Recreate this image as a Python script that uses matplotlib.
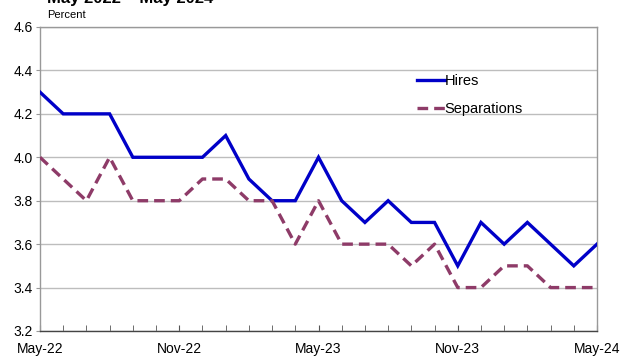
import matplotlib
matplotlib.use("Agg")
import matplotlib.pyplot as plt
import numpy as np

months = ["May-22","Jun-22","Jul-22","Aug-22","Sep-22","Oct-22","Nov-22","Dec-22",
          "Jan-23","Feb-23","Mar-23","Apr-23","May-23","Jun-23","Jul-23","Aug-23",
          "Sep-23","Oct-23","Nov-23","Dec-23","Jan-24","Feb-24","Mar-24","Apr-24","May-24"]
hires = [4.3,4.2,4.2,4.2,4.0,4.0,4.0,4.0,4.1,3.9,3.8,3.8,4.0,3.8,3.7,3.8,3.7,3.7,3.5,3.7,3.6,3.7,3.6,3.5,3.6]
separations = [4.0,3.9,3.8,4.0,3.8,3.8,3.8,3.9,3.9,3.8,3.8,3.6,3.8,3.6,3.6,3.6,3.5,3.6,3.4,3.4,3.5,3.5,3.4,3.4,3.4]
yticks = [3.2,3.4,3.6,3.8,4.0,4.2,4.4,4.6]

plt.rcParams['font.family'] = ['Liberation Sans', 'DejaVu Sans']

fig = plt.figure(figsize=(6.21, 3.6), dpi=100)
ax = fig.add_axes([40/621, 1-331/360, (597-40)/621, (331-27)/360])

x = np.arange(len(months))
ax.plot(x, hires, color='#0000C8', lw=2.4, label='Hires', solid_joinstyle='miter', zorder=3)
ax.plot(x, separations, color='#8E3B68', lw=2.4, ls=(0, (3.2, 1.8)), label='Separations', zorder=3)

ax.set_xlim(0, len(months)-1)
ax.set_ylim(3.2, 4.6)
ax.set_yticks(yticks)
ax.set_yticklabels([f"{v:.1f}" for v in yticks])
ax.yaxis.grid(True, color='#BDBDBD', lw=1)
ax.set_axisbelow(True)

ax.set_xticks(x, minor=True)
ax.set_xticks(x[::6])
ax.set_xticklabels(months[::6])
ax.tick_params(axis='x', which='both', direction='in', length=4, color='#555555', pad=8, labelsize=10)
ax.tick_params(axis='y', direction='out', length=3, color='#999999', pad=2, labelsize=10)

for s in ['top', 'right', 'left']:
    ax.spines[s].set_color('#999999')
    ax.spines[s].set_linewidth(1)
ax.spines['bottom'].set_color('#444444')
ax.spines['bottom'].set_linewidth(1)

leg = ax.legend(loc='upper left', bbox_to_anchor=(371/557, 1-41/304), frameon=False,
                fontsize=10.5, handlelength=1.9, handletextpad=0.0, labelspacing=0.95,
                borderaxespad=0)

fig.text(47/621, 1-3/360, "May 2022 \u2013 May 2024", fontsize=12, fontweight='bold', va='baseline')
fig.text(47/621, 1-18/360, "Percent", fontsize=8, va='baseline')

fig.savefig("out.png", dpi=100)
